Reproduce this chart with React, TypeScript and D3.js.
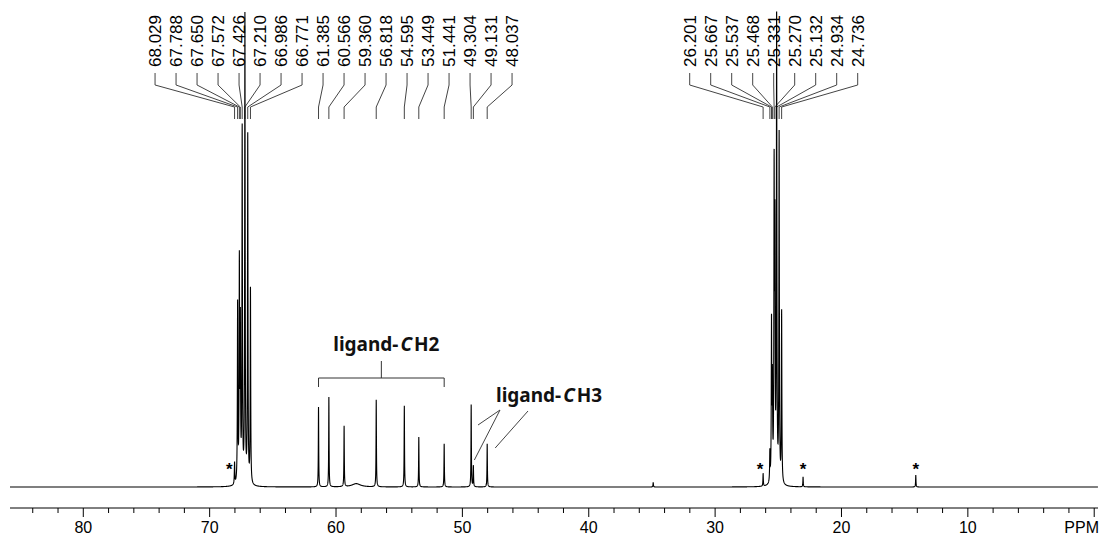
import React from 'react';
import * as d3 from 'd3';

// peak list (ppm, relative intensity, half width in ppm)
const peakPpm = [
  68.029, 67.788, 67.65, 67.572, 67.426, 67.21, 66.986, 66.771,
  61.385, 60.566, 59.36, 58.4, 56.818, 54.595, 53.449, 51.441, 49.304, 49.131, 48.037,
  34.9, 26.201, 25.667, 25.537, 25.468, 25.331, 25.27, 25.132, 24.934, 24.736,
  23.04, 14.12,
];
const peakHeight = [
  4.6, 37.5, 45.5, 32, 74, 100, 73, 41,
  16.8, 18.9, 12.8, 0.7, 18.3, 17.1, 10.5, 9.1, 17.3, 4.4, 9.1,
  1.0, 2.7, 6.3, 33, 20, 63, 50, 100, 73, 36,
  2.1, 2.5,
];
const peakWidth = [
  0.022, 0.022, 0.022, 0.022, 0.022, 0.022, 0.022, 0.022,
  0.018, 0.018, 0.018, 0.4, 0.018, 0.018, 0.018, 0.018, 0.018, 0.018, 0.018,
  0.018, 0.018, 0.022, 0.022, 0.022, 0.022, 0.022, 0.022, 0.022, 0.022,
  0.018, 0.018,
];

// labelled peaks (top of the plot)
const labelPpm = [
  68.029, 67.788, 67.65, 67.572, 67.426, 67.21, 66.986, 66.771,
  61.385, 60.566, 59.36, 56.818, 54.595, 53.449, 51.441, 49.304, 49.131, 48.037,
  26.201, 25.667, 25.537, 25.468, 25.331, 25.27, 25.132, 24.934, 24.736,
];

// solvent / impurity marks
const starPpm = [68.45, 26.45, 23.04, 14.12];

const majorTicks = [80, 70, 60, 50, 40, 30, 20, 10];
const minorTicks = d3.range(84, -1, -2);

const W = 1100;
const H = 539;
const FONT = '"Liberation Sans", Arial, sans-serif';

const x = d3.scaleLinear().domain([85.8, -0.3]).range([10, 1098]);
const y = d3.scaleLinear().domain([0, 100]).range([487, 12]);
const axisY = 508;

function spreadLabels(xs: number[], gap: number) {
  let clusters = xs.map((v, i) => ({ idx: [i], center: v }));
  let merged = true;
  while (merged) {
    merged = false;
    for (let i = 0; i < clusters.length - 1; i++) {
      const a = clusters[i];
      const b = clusters[i + 1];
      const aEnd = a.center + ((a.idx.length - 1) * gap) / 2;
      const bStart = b.center - ((b.idx.length - 1) * gap) / 2;
      if (bStart - aEnd < gap) {
        const idx = a.idx.concat(b.idx);
        const center = d3.mean(idx, (j) => xs[j]) as number;
        clusters.splice(i, 2, { idx, center });
        merged = true;
        break;
      }
    }
  }
  const out: number[] = new Array(xs.length);
  clusters.forEach((c) =>
    c.idx.forEach((j, k) => {
      out[j] = c.center + (k - (c.idx.length - 1) / 2) * gap;
    })
  );
  return out;
}

function spectrumPoints() {
  const grid = d3.range(85.8, -0.3, -0.005).concat(peakPpm);
  grid.sort((a, b) => b - a);
  return grid.map((p) => {
    let v = 0;
    for (let i = 0; i < peakPpm.length; i++) {
      const g = peakWidth[i];
      const d = p - peakPpm[i];
      v += (peakHeight[i] * g * g) / (g * g + d * d);
    }
    return [p, Math.min(v, 100)] as [number, number];
  });
}

export default function App() {
  const pts = spectrumPoints();
  const line = d3
    .line<[number, number]>()
    .x((d) => x(d[0]))
    .y((d) => y(d[1]));

  const peakX = labelPpm.map((p) => x(p));
  const labelX = spreadLabels(peakX, 21);

  const bracketL = x(61.385);
  const bracketR = x(51.441);
  const bracketC = (bracketL + bracketR) / 2;

  return (
    <svg
      width={W}
      height={H}
      style={{ position: 'absolute', left: 0, top: 0, background: '#fff' }}
    >
      {/* peak labels with leader lines */}
      <g fontFamily={FONT} fontSize={17} fill="#000">
        {labelPpm.map((p, i) => (
          <g key={p}>
            <text
              transform={`translate(${labelX[i]},67) rotate(-90)`}
              dy="0.36em"
            >
              {p.toFixed(3)}
            </text>
            <path
              d={`M${labelX[i]},73V85L${peakX[i]},107V119`}
              fill="none"
              stroke="#444"
              strokeWidth={1}
            />
          </g>
        ))}
      </g>

      {/* spectrum */}
      <path d={line(pts) || ''} fill="none" stroke="#000" strokeWidth={1.1} />

      {/* impurity stars */}
      <g fontFamily={FONT} fontSize={17} fontWeight="bold" fill="#000" textAnchor="middle">
        {starPpm.map((p) => (
          <text key={p} x={x(p)} y={475}>
            *
          </text>
        ))}
      </g>

      {/* CH2 bracket */}
      <path
        d={`M${bracketL},387V378H${bracketR}V387M${bracketC},378V361`}
        fill="none"
        stroke="#333"
        strokeWidth={1}
      />
      <text
        x={bracketC + 5}
        y={351}
        textAnchor="middle"
        fontFamily='"Noto Sans", sans-serif'
        fontWeight="bold"
        fontSize={19}
        fill="#111"
      >
        ligand-<tspan fontStyle="italic" dx={2}>C</tspan>
        <tspan dx={2}>H2</tspan>
      </text>

      {/* CH3 pointers */}
      <text
        x={496}
        y={402}
        fontFamily='"Noto Sans", sans-serif'
        fontWeight="bold"
        fontSize={19}
        fill="#111"
      >
        ligand-<tspan fontStyle="italic" dx={2}>C</tspan>
        <tspan dx={2}>H3</tspan>
      </text>
      <path
        d={`M500,410L478,425M500,410L${x(49.131) + 1},460M528,411L${x(48.037) + 8},448`}
        fill="none"
        stroke="#444"
        strokeWidth={1}
      />

      {/* x axis */}
      <line x1={10} x2={1098} y1={axisY} y2={axisY} stroke="#000" strokeWidth={1} />
      {minorTicks.map((t) => (
        <line
          key={'m' + t}
          x1={x(t)}
          x2={x(t)}
          y1={axisY}
          y2={axisY + (t % 10 === 0 ? 9 : 5)}
          stroke="#000"
          strokeWidth={1}
        />
      ))}
      <g fontFamily={FONT} fontSize={16} fill="#000" textAnchor="middle">
        {majorTicks.map((t) => (
          <text key={t} x={x(t)} y={533}>
            {t}
          </text>
        ))}
        <text x={1099} y={533} textAnchor="end">
          PPM
        </text>
      </g>
    </svg>
  );
}
